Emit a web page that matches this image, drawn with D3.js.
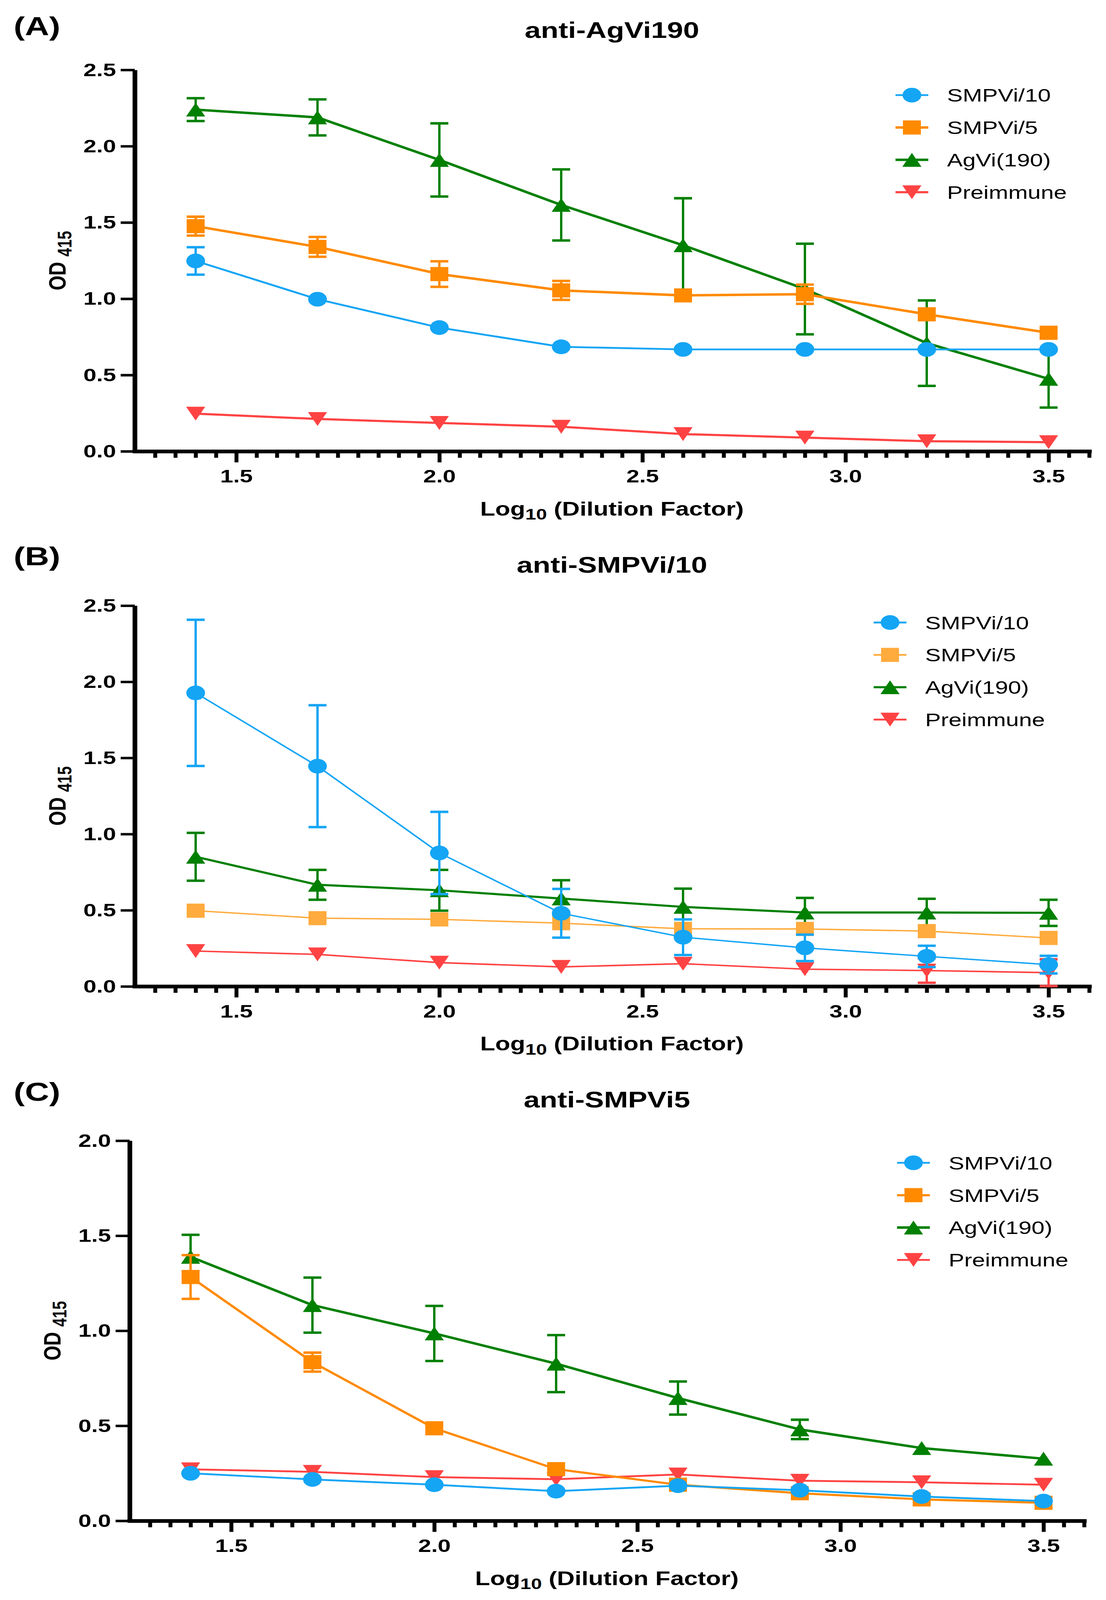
<!DOCTYPE html>
<html><head><meta charset="utf-8">
<script src="https://cdn.jsdelivr.net/npm/d3@7"></script>
<style>html,body{margin:0;padding:0;background:#fff;overflow:hidden;} svg{display:block;width:100vw;height:100vh;}</style>
</head><body><svg id="chart" viewBox="0 0 2832 5215" preserveAspectRatio="none"></svg>
<script>
// ---------------- DATA ----------------
const dilutionLog10 = [1.4, 1.7, 2.0, 2.3, 2.6, 2.9, 3.2, 3.5];
const seriesNames = ["SMPVi/10", "SMPVi/5", "AgVi(190)", "Preimmune"];
const panelLabels = ["(A)", "(B)", "(C)"];
const panelTitles = ["anti-AgVi190", "anti-SMPVi/10", "anti-SMPVi5"];
const xTickValues = [1.5, 2.0, 2.5, 3.0, 3.5];
const yTicksAB = [0, 0.5, 1.0, 1.5, 2.0, 2.5];
const yTicksC = [0, 0.5, 1.0, 1.5, 2.0];

// Panel A : anti-AgVi190
const aSMPVi10    = [1.248, 0.997, 0.811, 0.685, 0.668, 0.668, 0.668, 0.668];
const aSMPVi10Err = [0.090, 0, 0, 0, 0, 0, 0, 0];
const aSMPVi5     = [1.476, 1.340, 1.162, 1.055, 1.022, 1.030, 0.898, 0.777];
const aSMPVi5Err  = [0.062, 0.065, 0.084, 0.062, 0.020, 0.063, 0, 0];
const aAgVi       = [2.240, 2.189, 1.910, 1.615, 1.351, 1.064, 0.709, 0.475];
const aAgViErr    = [0.075, 0.118, 0.240, 0.233, 0.308, 0.297, 0.280, 0.188];
const aPre        = [0.247, 0.212, 0.186, 0.161, 0.113, 0.090, 0.066, 0.060];
const aPreErr     = [0, 0, 0, 0, 0, 0, 0, 0];

// Panel B : anti-SMPVi/10
const bSMPVi10    = [1.927, 1.446, 0.876, 0.480, 0.323, 0.253, 0.197, 0.143];
const bSMPVi10Err = [0.480, 0.400, 0.270, 0.160, 0.117, 0.087, 0.070, 0.058];
const bSMPVi5     = [0.497, 0.448, 0.440, 0.415, 0.378, 0.377, 0.363, 0.318];
const bSMPVi5Err  = [0, 0, 0, 0, 0, 0, 0, 0];
const bAgVi       = [0.851, 0.667, 0.631, 0.577, 0.522, 0.485, 0.485, 0.483];
const bAgViErr    = [0.157, 0.098, 0.134, 0.120, 0.120, 0.096, 0.090, 0.086];
const bPre        = [0.232, 0.210, 0.156, 0.128, 0.149, 0.113, 0.104, 0.090];
const bPreErr     = [0, 0, 0, 0, 0, 0, 0.080, 0.088];

// Panel C : anti-SMPVi5
const cSMPVi10    = [0.250, 0.218, 0.190, 0.156, 0.185, 0.161, 0.128, 0.104];
const cSMPVi10Err = [0, 0, 0, 0, 0, 0, 0, 0];
const cSMPVi5     = [1.283, 0.835, 0.487, 0.272, 0.190, 0.145, 0.113, 0.095];
const cSMPVi5Err  = [0.115, 0.050, 0, 0, 0, 0, 0, 0];
const cAgVi       = [1.389, 1.135, 0.986, 0.827, 0.646, 0.481, 0.383, 0.327];
const cAgViErr    = [0.116, 0.145, 0.145, 0.150, 0.087, 0.051, 0, 0];
const cPre        = [0.271, 0.258, 0.230, 0.219, 0.244, 0.211, 0.203, 0.190];
const cPreErr     = [0, 0, 0, 0, 0, 0, 0, 0];

// ---------------- STYLE / LAYOUT ----------------
const FONT = "'Liberation Sans', Arial, Helvetica, sans-serif";
const shapes = ["circle", "square", "triUp", "triDown"];

const panels = [
  { label: panelLabels[0], title: panelTitles[0], yTicks: yTicksAB, yMax: 2.5,
    xr: [345, 2789], yr: [1471, 228], labelY: 115, titleY: 123, xTitleY: 1680, yTitleX: 168,
    legX: 2335, legY: 310,
    colors: ["#14A5F5", "#FF8A00", "#008000", "#FF4343"], widths: [6, 8, 8, 7],
    values: [aSMPVi10, aSMPVi5, aAgVi, aPre], errs: [aSMPVi10Err, aSMPVi5Err, aAgViErr, aPreErr] },
  { label: panelLabels[1], title: panelTitles[1], yTicks: yTicksAB, yMax: 2.5,
    xr: [345, 2789], yr: [3215, 1974], labelY: 1842, titleY: 1866, xTitleY: 3424, yTitleX: 168,
    legX: 2279, legY: 2029,
    colors: ["#14A5F5", "#FFAB3D", "#008000", "#FF4343"], widths: [4.5, 4.5, 7, 5],
    values: [bSMPVi10, bSMPVi5, bAgVi, bPre], errs: [bSMPVi10Err, bSMPVi5Err, bAgViErr, bPreErr] },
  { label: panelLabels[2], title: panelTitles[2], yTicks: yTicksC, yMax: 2.0,
    xr: [332, 2776], yr: [4957, 3718], labelY: 3588, titleY: 3609, xTitleY: 5166, yTitleX: 155,
    legX: 2339, legY: 3790,
    colors: ["#14A5F5", "#FF8A00", "#008000", "#FF4343"], widths: [6, 7, 8, 6],
    values: [cSMPVi10, cSMPVi5, cAgVi, cPre], errs: [cSMPVi10Err, cSMPVi5Err, cAgViErr, cPreErr] }
];

// The whole 2832x5215 drawing is fitted into whatever viewport the browser really has.
const svg = d3.select("#chart")
  .attr("width", window.innerWidth).attr("height", window.innerHeight);
svg.append("rect").attr("width", 2832).attr("height", 5215).attr("fill", "#fff");

function drawMarker(g, shape, x, y, color) {
  if (shape === "circle") {
    g.append("circle").attr("cx", x).attr("cy", y).attr("r", 24).attr("fill", color);
  } else if (shape === "square") {
    g.append("path").attr("transform", `translate(${x},${y})`)
      .attr("d", d3.symbol().type(d3.symbolSquare).size(46 * 46)()).attr("fill", color);
  } else {
    const w = 49, h = 45;
    const d = shape === "triUp"
      ? `M${x},${y - h / 2}L${x + w / 2},${y + h / 2}L${x - w / 2},${y + h / 2}Z`
      : `M${x},${y + h / 2}L${x + w / 2},${y - h / 2}L${x - w / 2},${y - h / 2}Z`;
    g.append("path").attr("d", d).attr("fill", color);
  }
}

panels.forEach(p => {
  const x = d3.scaleLinear().domain([1.25, 3.6]).range(p.xr);
  const y = d3.scaleLinear().domain([0, p.yMax]).range(p.yr);
  const cx = (p.xr[0] + p.xr[1]) / 2;
  const g = svg.append("g");

  // panel label and title
  g.append("text").attr("x", 35).attr("y", p.labelY).text(p.label)
    .attr("font-family", FONT).attr("font-weight", "bold").attr("font-size", 86);
  g.append("text").attr("x", cx).attr("y", p.titleY).attr("text-anchor", "middle").text(p.title)
    .attr("font-family", FONT).attr("font-weight", "bold").attr("font-size", 74);

  // Y axis
  const yAxis = d3.axisLeft(y).tickValues(p.yTicks).tickSize(36).tickSizeOuter(0)
    .tickPadding(12).tickFormat(d3.format(".1f"));
  const ga = g.append("g").attr("transform", `translate(${p.xr[0]},0)`).call(yAxis);
  ga.attr("font-family", FONT).attr("font-size", 60).attr("font-weight", "bold");
  ga.select(".domain").attr("stroke-width", 12).attr("stroke", "#000");
  ga.selectAll(".tick line").attr("stroke-width", 8).attr("stroke", "#000");
  ga.selectAll(".tick text").attr("fill", "#000");

  // X axis minor ticks (every 0.05)
  const minor = d3.range(26, 73).map(k => k / 20).filter(v => !xTickValues.some(t => Math.abs(t - v) < 1e-9));
  const gm = g.append("g").attr("transform", `translate(0,${p.yr[0]})`)
    .call(d3.axisBottom(x).tickValues(minor).tickSize(21).tickSizeOuter(0).tickFormat(""));
  gm.select(".domain").remove();
  gm.selectAll(".tick line").attr("stroke-width", 10).attr("stroke", "#000");

  // X axis major ticks
  const xAxis = d3.axisBottom(x).tickValues(xTickValues).tickSize(36).tickSizeOuter(0)
    .tickPadding(23).tickFormat(d3.format(".1f"));
  const gx = g.append("g").attr("transform", `translate(0,${p.yr[0]})`).call(xAxis);
  gx.attr("font-family", FONT).attr("font-size", 60).attr("font-weight", "bold");
  gx.select(".domain").attr("stroke-width", 12).attr("stroke", "#000").attr("stroke-linecap", "square");
  gx.selectAll(".tick line").attr("stroke-width", 10).attr("stroke", "#000");
  gx.selectAll(".tick text").attr("fill", "#000");

  // Axis titles
  const xt = g.append("text").attr("x", cx).attr("y", p.xTitleY).attr("text-anchor", "middle")
    .attr("font-family", FONT).attr("font-weight", "bold").attr("font-size", 63);
  xt.append("tspan").text("Log");
  xt.append("tspan").attr("font-size", 50).attr("dy", 13).text("10");
  xt.append("tspan").attr("dy", -13).text(" (Dilution Factor)");

  const ymid = (p.yr[0] + p.yr[1]) / 2;
  const yt = g.append("text").attr("transform", `translate(${p.yTitleX},${ymid}) rotate(-90)`)
    .attr("text-anchor", "middle").attr("font-family", FONT).attr("font-weight", "bold").attr("font-size", 62);
  yt.append("tspan").text("OD ");
  yt.append("tspan").attr("font-size", 50).attr("dy", 15).text("415");

  // Series (drawn in reverse order so the first series is on top)
  const line = d3.line().x((d, i) => x(dilutionLog10[i])).y(d => y(d));
  for (let s = seriesNames.length - 1; s >= 0; s--) {
    const col = p.colors[s], sw = p.widths[s];
    const sg = g.append("g");
    sg.append("path").attr("d", line(p.values[s])).attr("fill", "none")
      .attr("stroke", col).attr("stroke-width", sw).attr("stroke-linejoin", "round");
    p.values[s].forEach((v, i) => {
      const e = p.errs[s][i];
      if (e > 0) {
        const xx = x(dilutionLog10[i]);
        const y1 = y(v + e), y2 = y(Math.max(0, v - e));
        sg.append("line").attr("x1", xx).attr("x2", xx).attr("y1", y1).attr("y2", y2)
          .attr("stroke", col).attr("stroke-width", 6);
        [y1, y2].forEach(yy => sg.append("line").attr("x1", xx - 23).attr("x2", xx + 23)
          .attr("y1", yy).attr("y2", yy).attr("stroke", col).attr("stroke-width", 8));
      }
    });
    p.values[s].forEach((v, i) => drawMarker(sg, shapes[s], x(dilutionLog10[i]), y(v), col));
  }

  // Legend
  seriesNames.forEach((name, s) => {
    const ly = p.legY + s * 105.5;
    const lg = g.append("g");
    lg.append("line").attr("x1", p.legX - 42).attr("x2", p.legX + 42).attr("y1", ly).attr("y2", ly)
      .attr("stroke", p.colors[s]).attr("stroke-width", Math.max(6, p.widths[s]));
    drawMarker(lg, shapes[s], p.legX, ly, p.colors[s]);
    lg.append("text").attr("x", p.legX + 90).attr("y", ly).attr("dy", "0.36em").text(name)
      .attr("font-family", FONT).attr("font-size", 60).attr("fill", "#000");
  });
});
</script>
</body></html>
